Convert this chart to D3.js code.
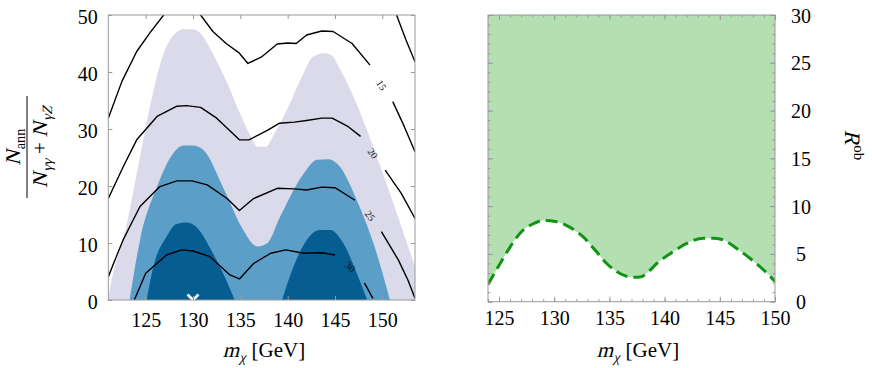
<!DOCTYPE html>
<html>
<head>
<meta charset="utf-8">
<script src="https://cdn.jsdelivr.net/npm/d3@7"></script>
<style>
  body { margin: 0; background: #ffffff; }
  svg { display: block; }
</style>
</head>
<body>
<div id="chart"></div>
<script>
// ---- left panel: shaded bands (upper boundary vs m_chi) ----
const lightBand = [[121.0,0],[121.4,3.5],[122.8,11.7],[124.2,23.4],[125.6,35.1],[126.9,43.3],[128.0,46.6],
  [129.0,47.5],[129.9,47.5],[130.8,46.8],[132.0,43.5],[133.3,39.2],[135.1,32.2],[136.2,28.4],[136.8,26.9],
  [137.7,26.9],[138.6,29.2],[140.4,35.1],[141.6,39.5],[142.7,42.7],[143.9,43.3],[144.6,43.0],[145.5,40.6],
  [147.4,33.9],[149.8,23.4],[152.0,12.9],[153.45,5.8],[154.0,3.0]];
const midBand = [[123.3,0],[124.4,10.5],[126.2,19.9],[127.9,25.7],[129.0,27.1],[130.0,27.1],[131.1,26.3],
  [133.3,19.3],[135.1,12.9],[136.8,9.4],[137.8,9.9],[139.2,14.6],[141.7,22.2],[143.1,24.6],[144.3,24.7],
  [145.5,23.4],[147.3,17.5],[149.4,8.2],[150.8,0]];
const darkBandA = [[125.1,0],[125.8,5.8],[127.2,11.1],[128.2,13.3],[129.3,13.6],[130.3,12.9],[132.1,8.2],[133.5,3.5],[134.4,0]];
const darkBandB = [[139.4,0],[140.6,5.8],[142.0,10.5],[143.4,12.3],[144.5,12.3],[145.9,9.9],[147.3,4.7],[148.4,0]];

// ---- left panel: contour lines (pieces are split at label gaps) ----
const contour15a = [[121.05,31.9],[122.5,38.4],[124.05,43.6],[125.5,47.0],[126.9,50.0],[128.0,52.0],[129.8,52.0],
  [130.8,50.0],[132.1,47.1],[133.5,45.0],[134.9,43.3],[135.8,41.5],[137.2,42.6],[138.9,44.9],[140.0,45.1],
  [140.9,45.0],[142.0,46.5],[143.6,47.2],[144.8,47.1],[146.8,45.0],[148.7,41.2]];
const contour15b = [[151.1,34.8],[152.3,30.5],[153.45,26.0]];
const contour10 = [[151.5,50.0],[152.5,45.6],[153.45,41.8]];
const contour20a = [[121.05,17.8],[122.6,23.3],[124.05,28.1],[126.2,32.2],[128.3,34.0],[129.3,34.1],[130.8,33.8],
  [132.5,31.9],[134.9,28.1],[135.9,28.1],[137.9,29.8],[139.1,31.0],[140.7,31.2],[142.0,31.5],[143.6,31.9],
  [144.7,31.9],[146.4,30.4],[147.7,28.7]];
const contour20b = [[150.3,22.8],[152.0,18.7],[153.45,14.3]];
const contour25a = [[121.05,4.1],[122.6,10.5],[124.4,16.4],[126.5,19.9],[128.3,20.9],[129.9,20.9],[131.5,20.2],
  [133.6,17.8],[134.9,15.7],[136.4,17.8],[138.9,19.6],[140.7,19.5],[142.0,19.3],[143.6,19.8],[145.0,19.7],[147.1,17.5]];
const contour25b = [[149.9,12.0],[151.7,7.0],[152.7,3.5],[153.45,0.3]];
const contour30a = [[123.8,0],[125.0,4.7],[127.2,7.9],[128.8,8.8],[130.0,8.6],[131.8,7.6],[133.9,4.4],[134.9,3.7],
  [136.4,6.4],[138.2,8.2],[139.8,8.8],[141.7,8.2],[143.6,8.3],[145.0,7.9]];
const contour30b = [[148.1,3.0],[148.6,1.5],[149.0,0.3]];

const contourLabels = ['15', '20', '25', '30'];
const contourLabelPos = [[149.9,37.7],[149.0,25.7],[148.7,14.8],[146.6,5.8]];
const contourLabelAngle = [58, 53, 50, 43];
const bestFit = [130, 0];

// ---- right panel: R^ob lower bound ----
const robCurve = [[124.0,1.8],[125.1,4.0],[126.1,5.9],[127.05,7.35],[128.0,8.1],[129.0,8.5],[130.1,8.4],
  [131.4,7.8],[132.6,6.8],[133.7,5.4],[134.75,4.0],[135.6,3.2],[136.4,2.72],[137.1,2.55],[137.8,2.58],
  [138.5,3.1],[139.3,4.0],[140.6,5.1],[142.0,6.1],[143.5,6.65],[144.5,6.65],[145.3,6.48],[146.5,5.6],
  [147.7,4.57],[148.8,3.5],[149.85,2.3],[150.0,2.1]];

const xTicksL = [125, 130, 135, 140, 145, 150];
const yTicksL = [0, 10, 20, 30, 40, 50];
const xTicksR = [125, 130, 135, 140, 145, 150];
const yTicksR = [0, 5, 10, 15, 20, 25, 30];

const SERIF = '"Liberation Serif", serif';
const FRAME = '#9a9a9a';
const W = 872, H = 368;
const svg = d3.select('#chart').append('svg').attr('width', W).attr('height', H);

// builds a label from pieces; italic pieces get a faked slant (no serif italic installed)
function mathText(parent, segs, base) {
  const g = parent.append('g');
  let x = 0;
  segs.forEach(s => {
    const small = s.sub || s.sup;
    const fs = small ? base * 0.68 : base;
    const dy = s.sub ? base * 0.24 : s.sup ? -base * 0.4 : 0;
    x += s.dx || 0;
    const t = g.append('text')
      .style('font-family', SERIF).style('font-size', fs + 'px')
      .attr('fill', '#000')
      .attr('transform', `translate(${x},${dy})` + (s.it ? ' skewX(-14)' : ''))
      .text(s.t);
    x += t.node().getComputedTextLength() + (s.after || 0);
  });
  return { g, w: x };
}
function centeredMath(parent, segs, base, transform) {
  const outer = parent.append('g').attr('transform', transform);
  const m = mathText(outer, segs, base);
  m.g.attr('transform', `translate(${-m.w / 2},0)`);
  return outer;
}
function styleTicks(sel) {
  sel.attr('font-family', 'Liberation Serif').attr('font-size', 20);
  sel.select('.domain').remove();
  sel.selectAll('.tick line').attr('stroke', FRAME);
  sel.selectAll('.tick text')
    .attr('font-family', 'Liberation Serif')
    .style('font-family', SERIF).style('font-size', '20px').attr('fill', '#000');
  return sel;
}

// ============ LEFT PANEL ============
const xL = d3.scaleLinear().domain([121.05, 153.45]).range([108.3, 415]);
const yL = d3.scaleLinear().domain([0, 50]).range([300, 15]);

svg.append('clipPath').attr('id', 'clipL').append('rect')
  .attr('x', xL.range()[0]).attr('y', yL.range()[1])
  .attr('width', xL.range()[1] - xL.range()[0]).attr('height', yL.range()[0] - yL.range()[1]);

const gL = svg.append('g');
const plotL = gL.append('g').attr('clip-path', 'url(#clipL)');

const bandArea = d3.area().x(d => xL(d[0])).y0(yL(0)).y1(d => yL(d[1])).curve(d3.curveMonotoneX);
plotL.append('path').attr('d', bandArea(lightBand)).attr('fill', '#dadaea');
plotL.append('path').attr('d', bandArea(midBand)).attr('fill', '#5b9fc9');
plotL.append('path').attr('d', bandArea(darkBandA)).attr('fill', '#055d92');
plotL.append('path').attr('d', bandArea(darkBandB)).attr('fill', '#055d92');

const cLine = d3.line().x(d => xL(d[0])).y(d => yL(d[1])).curve(d3.curveLinear);
[contour15a, contour15b, contour10, contour20a, contour20b, contour25a, contour25b, contour30a, contour30b]
  .forEach(c => {
    plotL.append('path').attr('d', cLine(c)).attr('fill', 'none')
      .attr('stroke', '#000').attr('stroke-width', 1.4).attr('stroke-linejoin', 'round');
  });

contourLabels.forEach((t, i) => {
  const px = xL(contourLabelPos[i][0]), py = yL(contourLabelPos[i][1]);
  plotL.append('text')
    .attr('transform', `translate(${px},${py}) rotate(${contourLabelAngle[i]})`)
    .attr('text-anchor', 'middle').attr('dy', '0.35em')
    .style('font-family', SERIF).style('font-size', '10px').attr('fill', '#111').text(t);
});

// best-fit cross
{
  const cx = xL(bestFit[0]), cy = yL(bestFit[1]), s = 5.5;
  const p = d3.path();
  p.moveTo(cx - s, cy - s); p.lineTo(cx + s, cy + s);
  p.moveTo(cx + s, cy - s); p.lineTo(cx - s, cy + s);
  plotL.append('path').attr('d', p.toString()).attr('stroke', '#fff').attr('stroke-width', 2.6).attr('fill', 'none');
}

// frame + axes
gL.append('rect')
  .attr('x', xL.range()[0]).attr('y', yL.range()[1])
  .attr('width', xL.range()[1] - xL.range()[0]).attr('height', yL.range()[0] - yL.range()[1])
  .attr('fill', 'none').attr('stroke', FRAME).attr('stroke-width', 1);

styleTicks(gL.append('g').attr('transform', `translate(0,${yL(0)})`)
  .call(d3.axisBottom(xL).tickValues(xTicksL).tickSize(-4).tickPadding(12.5)));
styleTicks(gL.append('g').attr('transform', `translate(0,${yL(50)})`)
  .call(d3.axisTop(xL).tickValues(xTicksL).tickSize(-4).tickFormat('')));
styleTicks(gL.append('g').attr('transform', `translate(${xL.range()[0]},0)`)
  .call(d3.axisLeft(yL).tickValues(yTicksL).tickSize(-4).tickPadding(10.6)))
  .selectAll('text').attr('dy', '0.42em');
styleTicks(gL.append('g').attr('transform', `translate(${xL.range()[1]},0)`)
  .call(d3.axisRight(yL).tickValues(yTicksL).tickSize(-4).tickFormat('')));

const xLabelSegs = [{ t: 'm', it: true }, { t: 'χ', it: true, sub: true, after: 6 }, { t: '[GeV]' }];
centeredMath(gL, xLabelSegs, 21, 'translate(264,357)');

// y label (fraction)
{
  const g = gL.append('g').attr('transform', 'translate(27,147) rotate(-90)');
  g.append('line').attr('x1', -51).attr('x2', 51).attr('y1', 0).attr('y2', 0).attr('stroke', '#000').attr('stroke-width', 1);
  centeredMath(g, [{ t: 'N', it: true, after: 1 }, { t: 'ann', sub: true }], 21, 'translate(0,-7)');
  centeredMath(g, [{ t: 'N', it: true, after: 1 }, { t: 'γγ', it: true, sub: true, after: 5 }, { t: '+', after: 5 },
    { t: 'N', it: true, after: 1 }, { t: 'γZ', it: true, sub: true }], 21, 'translate(0,20)');
}

// ============ RIGHT PANEL ============
const xR = d3.scaleLinear().domain([124, 150]).range([488, 775]);
const yR = d3.scaleLinear().domain([0, 30]).range([301.7, 15]);

svg.append('clipPath').attr('id', 'clipR').append('rect')
  .attr('x', xR.range()[0]).attr('y', yR.range()[1])
  .attr('width', xR.range()[1] - xR.range()[0]).attr('height', yR.range()[0] - yR.range()[1]);

const gR = svg.append('g');
const plotR = gR.append('g').attr('clip-path', 'url(#clipR)');

plotR.append('path')
  .attr('d', d3.area().x(d => xR(d[0])).y0(yR(30)).y1(d => yR(d[1])).curve(d3.curveMonotoneX)(robCurve))
  .attr('fill', '#b3dfb3');
plotR.append('path')
  .attr('d', d3.line().x(d => xR(d[0])).y(d => yR(d[1])).curve(d3.curveMonotoneX)(robCurve))
  .attr('fill', 'none').attr('stroke', '#119411').attr('stroke-width', 3)
  .attr('stroke-dasharray', '12 6');

gR.append('rect')
  .attr('x', xR.range()[0]).attr('y', yR.range()[1])
  .attr('width', xR.range()[1] - xR.range()[0]).attr('height', yR.range()[0] - yR.range()[1])
  .attr('fill', 'none').attr('stroke', FRAME).attr('stroke-width', 1);

const minorX = d3.range(124, 151);
const minorY = d3.range(0, 31);
styleTicks(gR.append('g').attr('transform', `translate(0,${yR(0)})`)
  .call(d3.axisBottom(xR).tickValues(minorX).tickSize(-2.5).tickFormat('')));
styleTicks(gR.append('g').attr('transform', `translate(0,${yR(0)})`)
  .call(d3.axisBottom(xR).tickValues(xTicksR).tickSize(-5).tickPadding(9)));
styleTicks(gR.append('g').attr('transform', `translate(0,${yR(30)})`)
  .call(d3.axisTop(xR).tickValues(minorX).tickSize(-2.5).tickFormat('')));
styleTicks(gR.append('g').attr('transform', `translate(0,${yR(30)})`)
  .call(d3.axisTop(xR).tickValues(xTicksR).tickSize(-5).tickFormat('')));
styleTicks(gR.append('g').attr('transform', `translate(${xR.range()[0]},0)`)
  .call(d3.axisLeft(yR).tickValues(minorY).tickSize(-2.5).tickFormat('')));
styleTicks(gR.append('g').attr('transform', `translate(${xR.range()[0]},0)`)
  .call(d3.axisLeft(yR).tickValues(yTicksR).tickSize(-5).tickFormat('')));
styleTicks(gR.append('g').attr('transform', `translate(${xR.range()[1]},0)`)
  .call(d3.axisRight(yR).tickValues(minorY).tickSize(-2.5).tickFormat('')));
styleTicks(gR.append('g').attr('transform', `translate(${xR.range()[1]},0)`)
  .call(d3.axisRight(yR).tickValues(yTicksR).tickSize(-5)))
  .selectAll('text').attr('x', 26).attr('text-anchor', 'middle').attr('dy', '0.35em');

centeredMath(gR, xLabelSegs, 21, 'translate(638,357)');
{
  const g = gR.append('g').attr('transform', 'translate(845,145) rotate(90)');
  centeredMath(g, [{ t: 'R', it: true, after: 1 }, { t: 'ob', sup: true }], 22, 'translate(0,0)');
}
</script>
</body>
</html>
